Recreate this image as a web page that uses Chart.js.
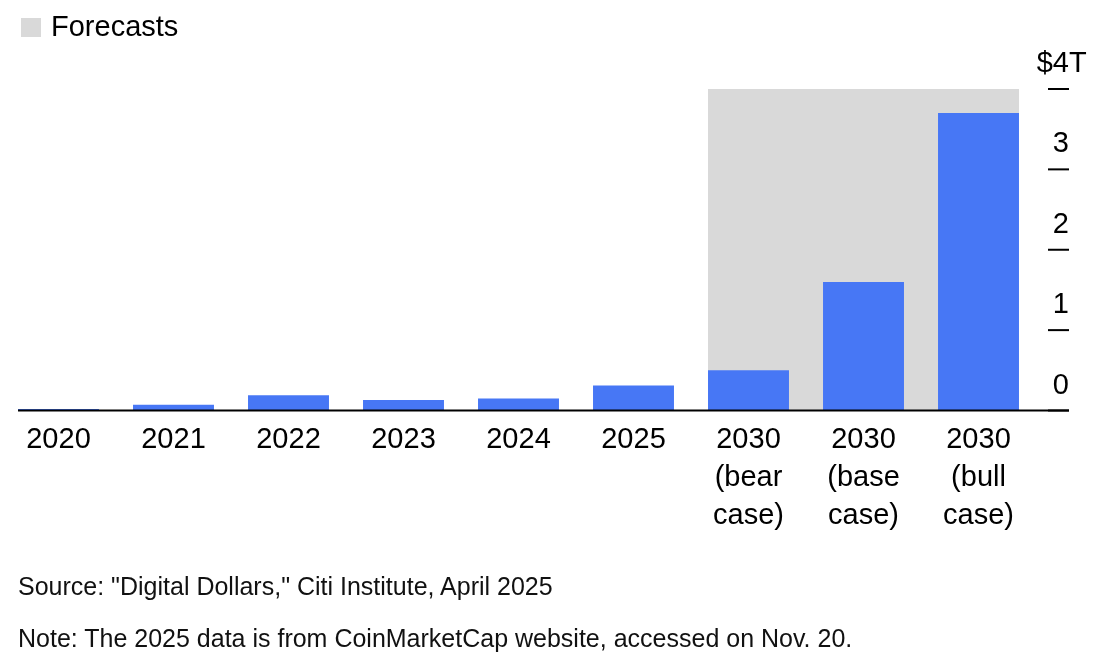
<!DOCTYPE html>
<html>
<head>
<meta charset="utf-8">
<script src="https://cdn.jsdelivr.net/npm/chart.js@4"></script>
<style>
  body { margin: 0; background: #fff; font-family: "Liberation Sans", Arial, sans-serif; color: #000; }
  #wrap { position: relative; width: 1114px; height: 659px; }
  #chartBox { position: absolute; left: 0; top: 0; width: 1114px; height: 659px; }
  .legend { position: absolute; left: 21px; top: 9px; font-size: 29px; line-height: 34px; }
  .legend span.sw { display: inline-block; width: 20px; height: 19px; background: #d9d9d9; vertical-align: -1px; margin-right: 10px; }
  .foot { position: absolute; left: 18px; font-size: 25px; line-height: 28px; color: #111; }
</style>
</head>
<body>
<div id="wrap">
  <div id="chartBox"><canvas id="stableChart"></canvas></div>
  <div class="legend"><span class="sw"></span>Forecasts</div>
  <div class="foot" style="top:572px">Source: "Digital Dollars," Citi Institute, April 2025</div>
  <div class="foot" style="top:624px">Note: The 2025 data is from CoinMarketCap website, accessed on Nov. 20.</div>
</div>
<script>
// dados
const categorias = ['2020', '2021', '2022', '2023', '2024', '2025',
  ['2030', '(bear', 'case)'], ['2030', '(base', 'case)'], ['2030', '(bull', 'case)']];
const valores = [0.02, 0.07, 0.19, 0.13, 0.15, 0.31, 0.5, 1.6, 3.7]; // trilhoes de dolares
const yTicks = [0, 1, 2, 3, 4];
const inicioPrevisao = 6; // primeira categoria de previsao

const fonte = "'Liberation Sans', Arial, sans-serif";

// faixa cinza das previsoes + eixo direito desenhado a mao
const extras = {
  id: 'extras',
  beforeDatasetsDraw(chart) {
    const ctx = chart.ctx;
    const y = chart.scales.y;
    const bars = chart.getDatasetMeta(0).data;
    const a = bars[inicioPrevisao], b = bars[bars.length - 1];
    const x0 = a.x - a.width / 2, x1 = b.x + b.width / 2;
    ctx.save();
    ctx.fillStyle = '#d9d9d9';
    ctx.fillRect(x0, y.getPixelForValue(4), x1 - x0, y.getPixelForValue(0) - y.getPixelForValue(4));
    ctx.restore();
  },
  afterDraw(chart) {
    const ctx = chart.ctx;
    const y = chart.scales.y;
    const area = chart.chartArea;
    const bars = chart.getDatasetMeta(0).data;
    const xEnd = area.right + 33;
    ctx.save();
    // linha de base
    ctx.strokeStyle = '#000';
    ctx.lineWidth = 2;
    const y0 = y.getPixelForValue(0);
    ctx.beginPath();
    ctx.moveTo(bars[0].x - bars[0].width / 2, y0);
    ctx.lineTo(xEnd, y0);
    ctx.stroke();
    // marcas e rotulos do eixo y
    ctx.font = '29px ' + fonte;
    ctx.fillStyle = '#000';
    ctx.textBaseline = 'middle';
    y.ticks.forEach(t => {
      const py = y.getPixelForValue(t.value);
      ctx.beginPath();
      ctx.moveTo(area.right + 12, py);
      ctx.lineTo(xEnd, py);
      ctx.stroke();
      const ly = py - 25;
      ctx.textAlign = 'right';
      ctx.fillText(String(t.value), xEnd, ly);
      if (t.value === 4) {
        const w = ctx.measureText('4').width;
        ctx.fillText('$', xEnd - w, ly);
        ctx.textAlign = 'left';
        ctx.fillText('T', xEnd, ly);
      }
    });
    ctx.restore();
  }
};

new Chart(document.getElementById('stableChart'), {
  type: 'bar',
  data: {
    labels: categorias,
    datasets: [{
      data: valores,
      backgroundColor: '#4777f5',
      borderWidth: 0,
      barPercentage: 0.704,
      categoryPercentage: 1
    }]
  },
  options: {
    responsive: true,
    maintainAspectRatio: false,
    animation: false,
    layout: { padding: { left: 1, right: 0, top: 89, bottom: 118 } },
    scales: {
      x: {
        grid: { display: false, drawTicks: false },
        border: { display: false },
        ticks: {
          color: '#000',
          padding: 11,
          maxRotation: 0,
          autoSkip: false,
          font: { family: fonte, size: 29, lineHeight: 1.31 }
        },
        afterFit(scale) { scale.height = 130.5; }
      },
      y: {
        position: 'right',
        min: 0,
        max: 4,
        afterBuildTicks(scale) { scale.ticks = yTicks.map(v => ({ value: v })); },
        grid: { display: false, drawTicks: false },
        border: { display: false },
        ticks: { display: false },
        afterFit(scale) { scale.width = 78; }
      }
    },
    plugins: {
      legend: { display: false },
      tooltip: { enabled: false }
    }
  },
  plugins: [extras]
});
</script>
</body>
</html>
